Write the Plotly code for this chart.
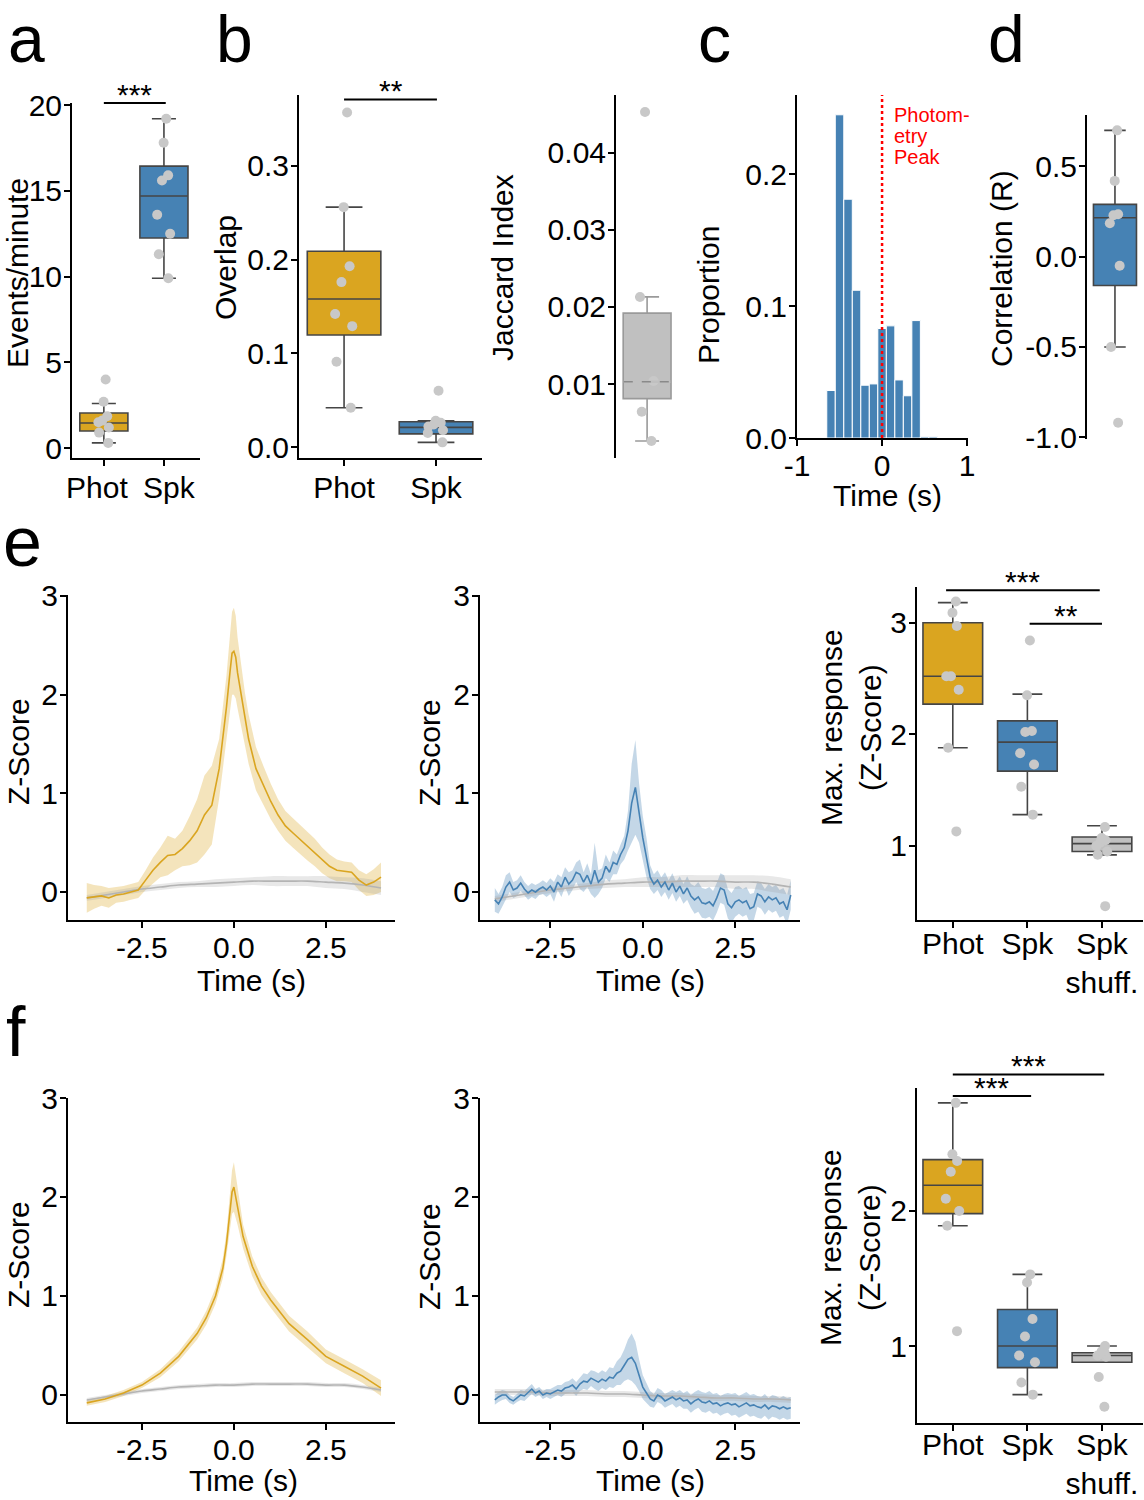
import plotly.graph_objects as go

# ======================= DATA =======================
CAT_2 = ["Phot", "Spk"]
CAT_3 = ["Phot", "Spk", "Spk<br>shuff."]

# stats order: lowerfence, q1, median, q3, upperfence
a_phot = [4.0, 2.7, 1.85, 1.6, 1.5, 1.2, 0.9, 0.3]
a_spk = [19.2, 17.8, 15.9, 15.6, 13.6, 12.5, 11.3, 9.9]
a_phot_stats = [0.3, 0.99, 1.46, 2.04, 2.6]
a_spk_stats = [9.9, 12.25, 14.7, 16.44, 19.2]
a_yticks = [0, 5, 10, 15, 20]

b_phot = [0.357, 0.256, 0.193, 0.176, 0.142, 0.129, 0.091, 0.042]
b_spk = [0.060, 0.028, 0.026, 0.024, 0.022, 0.018, 0.015, 0.005]
b_phot_stats = [0.042, 0.1195, 0.158, 0.209, 0.256]
b_spk_stats = [0.005, 0.014, 0.021, 0.027, 0.028]
b_yticks = [0.0, 0.1, 0.2, 0.3]
b_yticktext = ["0.0", "0.1", "0.2", "0.3"]

jac_vals = [0.0453, 0.0213, 0.0104, 0.0064, 0.0026]
jac_stats = [0.0026, 0.0081, 0.0103, 0.0192, 0.0213]
jac_yticks = [0.01, 0.02, 0.03, 0.04]
jac_yticktext = ["0.01", "0.02", "0.03", "0.04"]

c_bins = [-0.6, -0.5, -0.4, -0.3, -0.2, -0.1, 0.0, 0.1, 0.2, 0.3, 0.4, 0.5, 0.6]
c_prop = [0.036, 0.245, 0.181, 0.112, 0.040, 0.041, 0.083, 0.085, 0.044, 0.032, 0.089, 0.001, 0.001]
c_xticks = [-1, 0, 1]
c_xticktext = ["-1", "0", "1"]
c_yticks = [0.0, 0.1, 0.2]
c_yticktext = ["0.0", "0.1", "0.2"]
c_peak_label = ["Photom-", "etry", "Peak"]

d_vals = [0.70, 0.42, 0.235, 0.23, 0.185, -0.05, -0.5, -0.92]
d_stats = [-0.5, -0.16, 0.216, 0.29, 0.70]
d_yticks = [-1.0, -0.5, 0.0, 0.5]
d_yticktext = ["-1.0", "-0.5", "0.0", "0.5"]

# time courses
TIME_01 = [-4.0, -3.9, -3.8, -3.7, -3.6, -3.5, -3.4, -3.3, -3.2, -3.1,
           -3.0, -2.9, -2.8, -2.7, -2.6, -2.5, -2.4, -2.3, -2.2, -2.1,
           -2.0, -1.9, -1.8, -1.7, -1.6, -1.5, -1.4, -1.3, -1.2, -1.1,
           -1.0, -0.9, -0.8, -0.7, -0.6, -0.5, -0.4, -0.3, -0.2, -0.1,
           0.0, 0.1, 0.2, 0.3, 0.4, 0.5, 0.6, 0.7, 0.8, 0.9,
           1.0, 1.1, 1.2, 1.3, 1.4, 1.5, 1.6, 1.7, 1.8, 1.9,
           2.0, 2.1, 2.2, 2.3, 2.4, 2.5, 2.6, 2.7, 2.8, 2.9,
           3.0, 3.1, 3.2, 3.3, 3.4, 3.5, 3.6, 3.7, 3.8, 3.9, 4.0]
SHUF_T = [-4.0, -3.5, -3.0, -2.5, -2.0, -1.5, -1.0, -0.5, 0.0, 0.5, 1.0, 1.5, 2.0, 2.5, 3.0, 3.5, 4.0]

eL_t = [-4.0, -3.8, -3.6, -3.4, -3.2, -3.0, -2.8, -2.6, -2.4, -2.2, -2.0, -1.8, -1.6, -1.4, -1.2, -1.0,
        -0.8, -0.6, -0.4, -0.3, -0.2, -0.1, -0.05, 0.0, 0.05, 0.1, 0.2, 0.3, 0.4, 0.6, 0.8, 1.0,
        1.2, 1.4, 1.6, 1.8, 2.0, 2.2, 2.4, 2.6, 2.8, 3.0, 3.2, 3.4, 3.6, 3.8, 4.0]
eL_mean = [-0.06, -0.05, -0.04, -0.06, -0.03, -0.02, 0.0, 0.02, 0.12, 0.22, 0.30, 0.37, 0.38, 0.44, 0.52, 0.62,
           0.78, 0.88, 1.25, 1.55, 1.88, 2.25, 2.42, 2.44, 2.38, 2.22, 1.98, 1.75, 1.55, 1.25, 1.08, 0.92,
           0.78, 0.67, 0.60, 0.53, 0.47, 0.40, 0.32, 0.26, 0.22, 0.21, 0.20, 0.12, 0.07, 0.10, 0.15]
eL_sem = [0.15, 0.12, 0.10, 0.10, 0.08, 0.08, 0.08, 0.08, 0.10, 0.13, 0.15, 0.20, 0.16, 0.18, 0.25, 0.32,
          0.40, 0.40, 0.30, 0.30, 0.32, 0.38, 0.42, 0.44, 0.42, 0.36, 0.30, 0.27, 0.25, 0.22, 0.20, 0.18,
          0.16, 0.15, 0.15, 0.15, 0.15, 0.14, 0.13, 0.12, 0.11, 0.10, 0.10, 0.10, 0.11, 0.13, 0.15]
eL_shuf_mean = [-0.06, -0.03, 0.0, 0.03, 0.05, 0.07, 0.08, 0.09, 0.10, 0.11, 0.11, 0.11, 0.11, 0.10, 0.09, 0.07, 0.04]
eL_shuf_sem = [0.03, 0.03, 0.03, 0.03, 0.03, 0.03, 0.03, 0.04, 0.04, 0.04, 0.05, 0.05, 0.05, 0.06, 0.06, 0.07, 0.07]

eM_mean = [-0.08, -0.12, -0.05, 0.05, 0.10, 0.02, 0.04, 0.09, 0.03, -0.01,
           0.02, 0.00, 0.03, 0.05, 0.02, 0.06, 0.00, 0.10, 0.05, 0.15,
           0.08, 0.12, 0.20, 0.18, 0.10, 0.17, 0.08, 0.22, 0.10, 0.14,
           0.26, 0.20, 0.30, 0.28, 0.38, 0.45, 0.62, 0.90, 1.06, 0.80,
           0.55, 0.35, 0.15, 0.08, 0.12, 0.05, 0.10, 0.02, 0.09, 0.00,
           0.06, -0.02, 0.04, -0.04, -0.08, -0.05, -0.11, -0.12, -0.10, -0.14,
           -0.06, 0.04, 0.02, -0.12, -0.16, -0.10, -0.08, -0.11, -0.09, -0.17,
           -0.15, -0.02, -0.04, -0.10, -0.05, -0.08, -0.06, -0.12, -0.10, -0.18, -0.03]
eM_sem = [0.12, 0.10, 0.10, 0.12, 0.10, 0.08, 0.08, 0.08, 0.07, 0.07,
          0.07, 0.07, 0.06, 0.07, 0.07, 0.08, 0.10, 0.08, 0.10, 0.10,
          0.12, 0.10, 0.10, 0.15, 0.10, 0.12, 0.10, 0.28, 0.12, 0.10,
          0.12, 0.10, 0.12, 0.10, 0.10, 0.12, 0.20, 0.40, 0.48, 0.30,
          0.22, 0.20, 0.12, 0.10, 0.10, 0.10, 0.10, 0.10, 0.10, 0.10,
          0.10, 0.10, 0.12, 0.12, 0.14, 0.15, 0.15, 0.15, 0.15, 0.15,
          0.15, 0.15, 0.15, 0.15, 0.15, 0.15, 0.14, 0.14, 0.14, 0.15,
          0.14, 0.13, 0.13, 0.13, 0.13, 0.13, 0.13, 0.14, 0.14, 0.15, 0.15]
eM_shuf_mean = [-0.07, -0.04, -0.01, 0.02, 0.04, 0.06, 0.08, 0.09, 0.10, 0.10, 0.11, 0.11, 0.11, 0.10, 0.10, 0.08, 0.05]
eM_shuf_sem = [0.03, 0.03, 0.03, 0.03, 0.03, 0.03, 0.04, 0.04, 0.05, 0.05, 0.06, 0.06, 0.06, 0.07, 0.07, 0.08, 0.08]

e_phot = [3.19, 3.09, 2.97, 2.52, 2.52, 2.40, 1.88, 1.13]
e_spk = [2.84, 2.35, 2.03, 2.02, 1.83, 1.73, 1.53, 1.28]
e_shuf = [1.17, 1.07, 1.05, 1.03, 1.00, 0.95, 0.92, 0.46]
e_phot_stats = [1.88, 2.27, 2.52, 3.00, 3.18]
e_spk_stats = [1.28, 1.67, 1.93, 2.12, 2.36]
e_shuf_stats = [0.92, 0.95, 1.02, 1.08, 1.18]

fL_t = [-4.0, -3.5, -3.0, -2.5, -2.0, -1.5, -1.0, -0.75, -0.5, -0.3, -0.2, -0.1, -0.05, 0.0, 0.05, 0.1,
        0.25, 0.5, 0.75, 1.0, 1.5, 2.0, 2.5, 3.0, 3.5, 4.0]
fL_mean = [-0.08, -0.04, 0.02, 0.10, 0.22, 0.39, 0.62, 0.78, 1.00, 1.28, 1.53, 1.85, 2.05, 2.10, 2.00, 1.90,
           1.60, 1.30, 1.10, 0.96, 0.72, 0.56, 0.39, 0.29, 0.19, 0.07]
fL_sem = [0.03, 0.03, 0.03, 0.03, 0.04, 0.05, 0.06, 0.07, 0.08, 0.10, 0.12, 0.18, 0.22, 0.25, 0.22, 0.18,
          0.12, 0.10, 0.09, 0.08, 0.08, 0.08, 0.07, 0.07, 0.07, 0.08]
fL_shuf_mean = [-0.05, -0.02, 0.01, 0.04, 0.06, 0.08, 0.09, 0.10, 0.10, 0.11, 0.11, 0.11, 0.11, 0.10, 0.10, 0.08, 0.05]
fL_shuf_sem = [0.02, 0.02, 0.02, 0.02, 0.02, 0.02, 0.02, 0.02, 0.02, 0.02, 0.02, 0.02, 0.02, 0.02, 0.02, 0.02, 0.02]

fM_mean = [-0.05, -0.02, 0.00, 0.00, -0.04, -0.06, -0.03, 0.00, -0.01, 0.03,
           0.06, 0.02, 0.04, 0.00, 0.02, 0.01, 0.03, 0.05, 0.04, 0.07,
           0.08, 0.10, 0.06, 0.11, 0.14, 0.13, 0.17, 0.15, 0.13, 0.16,
           0.14, 0.18, 0.17, 0.22, 0.24, 0.30, 0.36, 0.38, 0.32, 0.20,
           0.08, 0.02, -0.04, -0.06, 0.00, -0.02, -0.06, -0.04, -0.02, -0.05,
           -0.03, -0.06, -0.05, -0.09, -0.06, -0.04, -0.07, -0.08, -0.06, -0.09,
           -0.08, -0.11, -0.09, -0.08, -0.10, -0.09, -0.12, -0.10, -0.08, -0.11,
           -0.10, -0.12, -0.13, -0.10, -0.14, -0.11, -0.12, -0.14, -0.12, -0.14, -0.13]
fM_sem = [0.05, 0.05, 0.05, 0.04, 0.04, 0.04, 0.04, 0.05, 0.05, 0.05,
          0.05, 0.04, 0.04, 0.04, 0.04, 0.05, 0.05, 0.05, 0.06, 0.06,
          0.06, 0.07, 0.07, 0.07, 0.08, 0.08, 0.08, 0.09, 0.09, 0.09,
          0.09, 0.10, 0.10, 0.12, 0.14, 0.16, 0.20, 0.24, 0.22, 0.16,
          0.12, 0.10, 0.08, 0.07, 0.07, 0.07, 0.07, 0.07, 0.07, 0.08,
          0.08, 0.08, 0.09, 0.09, 0.09, 0.09, 0.10, 0.10, 0.10, 0.10,
          0.10, 0.10, 0.10, 0.10, 0.11, 0.11, 0.11, 0.11, 0.11, 0.11,
          0.11, 0.11, 0.11, 0.11, 0.11, 0.11, 0.11, 0.11, 0.11, 0.11, 0.11]
fM_shuf_mean = [0.03, 0.03, 0.03, 0.02, 0.02, 0.02, 0.01, 0.01, 0.00, -0.01, -0.01, -0.02, -0.03, -0.03, -0.04, -0.04, -0.05]
fM_shuf_sem = [0.03, 0.03, 0.03, 0.03, 0.03, 0.03, 0.03, 0.03, 0.03, 0.03, 0.03, 0.03, 0.03, 0.03, 0.03, 0.03, 0.03]

f_phot = [2.80, 2.42, 2.37, 2.29, 2.09, 2.00, 1.89, 1.11]
f_spk = [1.53, 1.47, 1.20, 1.07, 0.93, 0.88, 0.73, 0.64]
f_shuf = [1.00, 0.96, 0.95, 0.94, 0.93, 0.92, 0.77, 0.55]
f_phot_stats = [1.89, 1.98, 2.19, 2.38, 2.80]
f_spk_stats = [0.64, 0.84, 1.00, 1.27, 1.53]
f_shuf_stats = [0.88, 0.88, 0.93, 0.95, 1.00]

TRACE_XTICKS = [-2.5, 0.0, 2.5]
TRACE_XTICKTEXT = ["-2.5", "0.0", "2.5"]
TRACE_YTICKS = [0, 1, 2, 3]

# ======================= STYLE =======================
W, H = 1144, 1500
FONT = "Liberation Sans, Arial, Helvetica, sans-serif"
GOLD = "#DAA520"
BLUE = "#4682B4"
SILVER = "#C0C0C0"
PT = "#C8C8C8"
EDGE = "#454545"
TICK_SIZE = 30
TITLE_SIZE = 30

fig = go.Figure()


def px_x(px):
    return px / W


def px_y(py):
    return 1 - py / H


def ref(letter, n):
    return letter if n == 1 else f"{letter}{n}"


def akey(letter, n):
    return f"{letter}axis" if n == 1 else f"{letter}axis{n}"


AX = dict(showline=True, linecolor="black", linewidth=2, ticks="outside", ticklen=6,
          tickwidth=2, tickcolor="black", showgrid=False, zeroline=False,
          tickfont=dict(size=TICK_SIZE, family=FONT, color="black"),
          fixedrange=True, automargin=False)

layout_axes = {}
RANGES = {}


def make_axes(n, box, xr, yr, xticks=None, yticks=None, showx=True, xstand=-6):
    x0, x1, y0, y1 = box
    xa = dict(AX, domain=[px_x(x0), px_x(x1)], range=xr, anchor=ref("y", n), tickangle=0,
              ticklabelstandoff=xstand)
    ya = dict(AX, domain=[px_y(y1), px_y(y0)], range=yr, anchor=ref("x", n), ticklabelstandoff=-4)
    if xticks is not None:
        xa.update(tickmode="array", tickvals=xticks[0], ticktext=xticks[1])
    if not showx:
        xa.update(showline=False, ticks="", showticklabels=False)
    if yticks is not None:
        ya.update(tickmode="array", tickvals=yticks[0], ticktext=yticks[1])
    layout_axes[akey("x", n)] = xa
    layout_axes[akey("y", n)] = ya
    RANGES[n] = yr


def add_box(n, pos, stats, pts, fill, edge=EDGE, jitter=0.35):
    lo, q1, med, q3, hi = stats
    fig.add_trace(go.Box(x=[pos], lowerfence=[lo], q1=[q1], median=[med], q3=[q3], upperfence=[hi],
                         fillcolor=fill, line=dict(color=edge, width=1.6), width=0.8,
                         whiskerwidth=0.5, boxpoints=False, hoverinfo="skip",
                         showlegend=False, xaxis=ref("x", n), yaxis=ref("y", n)))
    fig.add_trace(go.Box(y=pts, x0=pos, boxpoints="all", jitter=jitter, pointpos=0, width=0.8,
                         fillcolor="rgba(0,0,0,0)", line=dict(color="rgba(0,0,0,0)", width=0),
                         marker=dict(color=PT, size=10, line=dict(width=0)),
                         hoverinfo="skip", showlegend=False,
                         xaxis=ref("x", n), yaxis=ref("y", n)))


def add_band(n, t, mean, sem, color, fillcolor, width=1.6, shape="linear"):
    upper = [m + s for m, s in zip(mean, sem)]
    lower = [m - s for m, s in zip(mean, sem)]
    kw = dict(xaxis=ref("x", n), yaxis=ref("y", n), showlegend=False, hoverinfo="skip")
    fig.add_trace(go.Scatter(x=t, y=upper, mode="lines", line=dict(width=0, shape=shape), **kw))
    fig.add_trace(go.Scatter(x=t, y=lower, mode="lines", line=dict(width=0, shape=shape),
                             fill="tonexty", fillcolor=fillcolor, **kw))
    return go.Scatter(x=t, y=mean, mode="lines", line=dict(color=color, width=width, shape=shape), **kw)


def sig(n, x0, x1, yval, text):
    lo, hi = RANGES[n]
    frac = (yval - lo) / (hi - lo)
    fig.add_shape(type="line", xref=ref("x", n), yref=ref("y", n) + " domain",
                  x0=x0, x1=x1, y0=frac, y1=frac, line=dict(color="black", width=2))
    fig.add_annotation(xref=ref("x", n), yref=ref("y", n) + " domain", x=(x0 + x1) / 2, y=frac,
                       text=text, showarrow=False, yanchor="bottom", yshift=-10,
                       font=dict(size=TITLE_SIZE, family=FONT, color="black"))


def fmt(vals):
    return [str(v) for v in vals]


# ---------------- panel a ----------------
make_axes(1, (72, 200, 103, 458), [-0.53, 1.6], [-0.58, 20.12],
          xticks=([0, 1], ["", ""]), yticks=(a_yticks, fmt(a_yticks)))
add_box(1, 0, a_phot_stats, a_phot, GOLD)
add_box(1, 1, a_spk_stats, a_spk, BLUE)
sig(1, 0, 1.03, 20.12, "***")
# category labels of panel a (crowded: nudged apart as in the original)
for pos, lab, shift in zip([0, 1], CAT_2, [-7, 6]):
    fig.add_annotation(xref="x", yref="paper", x=pos, y=px_y(487), text=lab, showarrow=False,
                       xanchor="center", yanchor="middle", xshift=shift,
                       font=dict(size=TICK_SIZE, family=FONT, color="black"))

# ---------------- panel b ----------------
make_axes(2, (299, 482, 95, 458), [-0.49, 1.5], [-0.0117, 0.3757],
          xticks=([0, 1], CAT_2), yticks=(b_yticks, b_yticktext), xstand=-4)
add_box(2, 0, b_phot_stats, b_phot, GOLD)
add_box(2, 1, b_spk_stats, b_spk, BLUE)
sig(2, 0, 1.01, 0.371, "**")

# ---------------- Jaccard ----------------
make_axes(3, (616, 680, 95, 458), [-0.52, 0.55], [0.0004, 0.0475],
          yticks=(jac_yticks, jac_yticktext), showx=False)
add_box(3, 0, jac_stats, jac_vals, SILVER, edge="#9A9A9A")
fig.add_trace(go.Scatter(x=[-0.39, 0.39], y=[jac_stats[2]] * 2, mode="lines",
                         line=dict(color=SILVER, width=2.5), xaxis="x3", yaxis="y3",
                         showlegend=False, hoverinfo="skip"))
fig.add_trace(go.Scatter(x=[-0.39, 0.39], y=[jac_stats[2]] * 2, mode="lines",
                         line=dict(color="#8A8A8A", width=1.6, dash="dash"), xaxis="x3", yaxis="y3",
                         showlegend=False, hoverinfo="skip"))

# ---------------- panel c ----------------
make_axes(4, (797, 968, 95, 438), [-1.0, 1.01], [0.0, 0.26],
          xticks=(c_xticks, c_xticktext), yticks=(c_yticks, c_yticktext))
fig.add_trace(go.Bar(x=c_bins, y=c_prop, width=0.1, marker=dict(color=BLUE, line=dict(color="white", width=1)),
                     xaxis="x4", yaxis="y4", showlegend=False, hoverinfo="skip"))
fig.add_trace(go.Scatter(x=[0, 0], y=[0, 0.26], mode="lines",
                         line=dict(color="red", width=2.5, dash="dot"),
                         xaxis="x4", yaxis="y4", showlegend=False, hoverinfo="skip"))
for txt, yv in zip(c_peak_label, [0.245, 0.229, 0.213]):
    fig.add_annotation(xref="x4", yref="y4", x=0.12, y=yv, text=txt, showarrow=False,
                       xanchor="left", yanchor="middle",
                       font=dict(size=20, family=FONT, color="red"))

# ---------------- panel d ----------------
make_axes(5, (1087, 1144, 115, 439), [-0.52, 0.54], [-1.01, 0.785],
          yticks=(d_yticks, d_yticktext), showx=False)
add_box(5, 0, d_stats, d_vals, BLUE)

# ---------------- panel e ----------------
TX = (TRACE_XTICKS, TRACE_XTICKTEXT)
TY = (TRACE_YTICKS, fmt(TRACE_YTICKS))
make_axes(6, (68, 395, 595, 920), [-4.51, 4.38], [-0.284, 3.01], xticks=TX, yticks=TY)
make_axes(7, (480, 800, 595, 920), [-4.4, 4.25], [-0.284, 3.01], xticks=TX, yticks=TY)
make_axes(8, (917, 1143, 587, 920), [-0.48, 2.55], [0.336, 3.32],
          xticks=([0, 1, 2], CAT_3), yticks=([1, 2, 3], ["1", "2", "3"]), xstand=-10)

GOLD_F = "rgba(218,165,32,0.30)"
BLUE_F = "rgba(70,130,180,0.32)"
GREY_F = "rgba(150,150,150,0.22)"
GREY_L = "#B4B4B4"

m1 = add_band(6, eL_t, eL_mean, eL_sem, GOLD, GOLD_F)
m2 = add_band(6, SHUF_T, eL_shuf_mean, eL_shuf_sem, GREY_L, GREY_F, shape="spline")
fig.add_trace(m2)
fig.add_trace(m1)
m1 = add_band(7, TIME_01, eM_mean, eM_sem, BLUE, BLUE_F)
m2 = add_band(7, SHUF_T, eM_shuf_mean, eM_shuf_sem, GREY_L, GREY_F, shape="spline")
fig.add_trace(m2)
fig.add_trace(m1)

add_box(8, 0, e_phot_stats, e_phot, GOLD)
add_box(8, 1, e_spk_stats, e_spk, BLUE)
add_box(8, 2, e_shuf_stats, e_shuf, SILVER)
sig(8, -0.09, 1.97, 3.29, "***")
sig(8, 1.03, 2.0, 2.99, "**")

# ---------------- panel f ----------------
make_axes(9, (68, 395, 1098, 1422), [-4.51, 4.38], [-0.273, 3.0], xticks=TX, yticks=TY)
make_axes(10, (480, 800, 1098, 1422), [-4.4, 4.25], [-0.273, 3.0], xticks=TX, yticks=TY)
make_axes(11, (917, 1143, 1088, 1423), [-0.48, 2.55], [0.43, 2.91],
          xticks=([0, 1, 2], CAT_3), yticks=([1, 2], ["1", "2"]), xstand=-12)

m1 = add_band(9, fL_t, fL_mean, fL_sem, GOLD, GOLD_F)
m2 = add_band(9, SHUF_T, fL_shuf_mean, fL_shuf_sem, GREY_L, GREY_F, shape="spline")
fig.add_trace(m2)
fig.add_trace(m1)
m1 = add_band(10, TIME_01, fM_mean, fM_sem, BLUE, BLUE_F)
m2 = add_band(10, SHUF_T, fM_shuf_mean, fM_shuf_sem, GREY_L, GREY_F, shape="spline")
fig.add_trace(m2)
fig.add_trace(m1)

add_box(11, 0, f_phot_stats, f_phot, GOLD)
add_box(11, 1, f_spk_stats, f_spk, BLUE)
add_box(11, 2, f_shuf_stats, f_shuf, SILVER)
sig(11, 0, 2.03, 3.01, "***")
sig(11, 0, 1.05, 2.85, "***")


# ---------------- titles (page px) ----------------
def title(text, x, y, angle=0, size=TITLE_SIZE, color="black"):
    fig.add_annotation(xref="paper", yref="paper", x=px_x(x), y=px_y(y), text=text,
                       showarrow=False, textangle=angle, xanchor="center", yanchor="middle",
                       font=dict(size=size, family=FONT, color=color))


title("Events/minute", 18, 273, -90)
title("Overlap", 226, 268, -90)
title("Jaccard Index", 503, 268, -90)
title("Proportion", 708, 295, -90)
title("Correlation (R)", 1001, 269, -90)
title("Time (s)", 887, 495)
title("Z-Score", 18, 752, -90)
title("Z-Score", 429, 753, -90)
title("Time (s)", 251, 980)
title("Time (s)", 650, 980)
title("Max. response<br>(Z-Score)", 851, 728, -90)
title("Z-Score", 18, 1255, -90)
title("Z-Score", 429, 1257, -90)
title("Time (s)", 243, 1480)
title("Time (s)", 650, 1480)
title("Max. response<br>(Z-Score)", 850, 1248, -90)

for letter, x, y in [("a", 26, 39), ("b", 234, 39), ("c", 714, 39), ("d", 1006, 39)]:
    title(letter, x, y, size=66)
for letter, x, y in [("e", 22, 542), ("f", 16, 1032)]:
    title(letter, x, y, size=70)

fig.update_layout(width=W, height=H, margin=dict(l=0, r=0, t=0, b=0),
                  paper_bgcolor="white", plot_bgcolor="white", showlegend=False,
                  boxmode="overlay", font=dict(family=FONT, color="black"), **layout_axes)

# remove the default 8px page margin so the figure sits at the window's top-left corner
fig.write_html("out.html", config={"displayModeBar": False},
               post_script="document.body.style.margin='0px';")
